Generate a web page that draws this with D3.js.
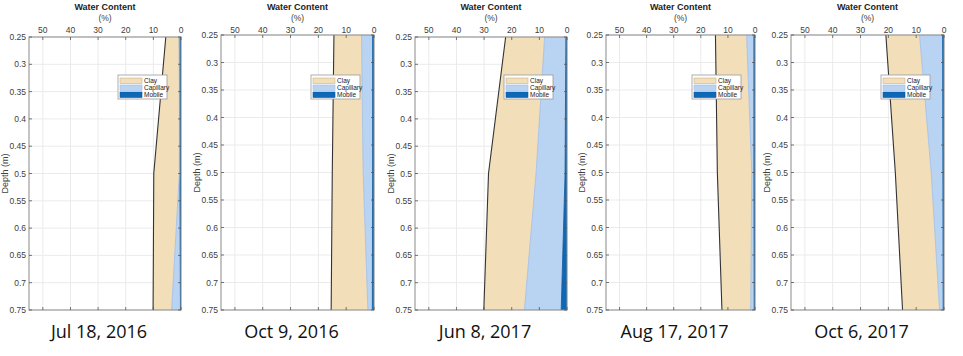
<!DOCTYPE html>
<html><head><meta charset="utf-8">
<script src="https://cdn.jsdelivr.net/npm/d3@7"></script>
<style>
html,body{margin:0;padding:0;background:#fff;}
svg{display:block;}
</style></head>
<body>
<svg id="chart" width="963" height="356"></svg>
<script>
// ---------- DATA ----------
const dates = ["Jul 18, 2016", "Oct 9, 2016", "Jun 8, 2017", "Aug 17, 2017", "Oct 6, 2017"];
const depths = [0.25, 0.5, 0.75];
const seriesNames = ["Clay", "Capillary", "Mobile"];
// water content (%) per panel, per depth
const mobile = [
  [0.6, 0.4, 0.2],
  [0.5, 0.5, 0.6],
  [0.4, 0.7, 2.1],
  [0.4, 0.4, 0.3],
  [0.5, 0.4, 0.3]
];
const capillary = [
  [0.0, 0.2, 3.2],
  [4.0, 3.4, 1.6],
  [7.7, 10.5, 13.3],
  [2.7, 0.8, 1.3],
  [8.3, 4.2, 1.3]
];
const clay = [
  [4.9, 9.25, 6.7],
  [9.9, 11.1, 13.2],
  [14.1, 17.2, 14.7],
  [11.5, 12.7, 10.6],
  [12.1, 12.9, 13.3]
];
const xTicks = [0, 10, 20, 30, 40, 50];
const yTicks = [0.25, 0.3, 0.35, 0.4, 0.45, 0.5, 0.55, 0.6, 0.65, 0.7, 0.75];
const yTickLabels = ["0.25", "0.3", "0.35", "0.4", "0.45", "0.5", "0.55", "0.6", "0.65", "0.7", "0.75"];
const xDomain = [0, 55];
const yDomain = [0.25, 0.75];

// ---------- LAYOUT ----------
const panelLeft = [29, 221, 415, 606, 791];
const panelRight = [181, 374, 567, 755, 944];
const panelTop = [37, 35, 37, 35, 35];
const panelBottom = 310;
const colors = { Clay: "#f2dfba", Capillary: "#b9d3f3", Mobile: "#0e68b8" };
const edgeColors = { Clay: "#333333", Capillary: "#9fbde6", Mobile: "#0b5aa0" };
const font = "'Liberation Sans', Arial, Helvetica, sans-serif";

const svg = d3.select("#chart");

dates.forEach((date, p) => {
  const L = panelLeft[p], R = panelRight[p], T = panelTop[p], B = panelBottom;
  const x = d3.scaleLinear().domain(xDomain).range([R, L]);
  const y = d3.scaleLinear().domain(yDomain).range([T, B]);
  const g = svg.append("g");

  const clipId = "clip" + p;
  svg.append("clipPath").attr("id", clipId)
    .append("rect").attr("x", L).attr("y", T).attr("width", R - L).attr("height", B - T);

  // grid
  const grid = g.append("g");
  grid.selectAll("line.gx").data(xTicks).join("line")
    .attr("x1", d => x(d)).attr("x2", d => x(d)).attr("y1", T).attr("y2", B)
    .attr("stroke", "#ebebeb").attr("stroke-width", 1);
  grid.selectAll("line.gy").data(yTicks).join("line")
    .attr("y1", d => y(d)).attr("y2", d => y(d)).attr("x1", L).attr("x2", R)
    .attr("stroke", "#ebebeb").attr("stroke-width", 1);

  // stacked data
  const rows = depths.map((d, i) => ({
    depth: d, Mobile: mobile[p][i], Capillary: capillary[p][i], Clay: clay[p][i]
  }));
  const stack = d3.stack().keys(["Mobile", "Capillary", "Clay"]);
  const layers = stack(rows);
  const area = d3.area()
    .y(d => y(d.data.depth))
    .x0(d => x(d[0]))
    .x1(d => x(d[1]));

  const areas = g.append("g").attr("clip-path", `url(#${clipId})`);
  layers.slice().reverse().forEach(layer => {
    areas.append("path")
      .attr("d", area(layer))
      .attr("fill", colors[layer.key])
      .attr("stroke", "none");
  });
  const line = d3.line().y(d => y(d.data.depth)).x(d => x(d[1]));
  layers.forEach(layer => {
    areas.append("path")
      .attr("d", line(layer))
      .attr("fill", "none")
      .attr("stroke", edgeColors[layer.key])
      .attr("stroke-width", layer.key === "Clay" ? 1.1 : 0.8);
  });

  // axis box
  g.append("rect").attr("x", L).attr("y", T).attr("width", R - L).attr("height", B - T)
    .attr("fill", "none").attr("stroke", "#8a8a8a").attr("stroke-width", 1);

  // ticks
  const tk = 3;
  const ticks = g.append("g").attr("stroke", "#555").attr("stroke-width", 0.8);
  xTicks.forEach(v => {
    ticks.append("line").attr("x1", x(v)).attr("x2", x(v)).attr("y1", T).attr("y2", T + tk);
    ticks.append("line").attr("x1", x(v)).attr("x2", x(v)).attr("y1", B).attr("y2", B - tk);
  });
  yTicks.forEach(v => {
    ticks.append("line").attr("y1", y(v)).attr("y2", y(v)).attr("x1", L).attr("x2", L + tk);
    ticks.append("line").attr("y1", y(v)).attr("y2", y(v)).attr("x1", R).attr("x2", R - tk);
  });

  // tick labels
  g.selectAll("text.xt").data(xTicks).join("text")
    .attr("x", d => x(d)).attr("y", 32.5)
    .attr("text-anchor", "middle")
    .attr("font-family", font).attr("font-size", 8.5).attr("fill", "#404040")
    .text(d => d);
  g.selectAll("text.yt").data(yTicks).join("text")
    .attr("x", L - 3).attr("y", d => y(d) + 3)
    .attr("text-anchor", "end")
    .attr("font-family", font).attr("font-size", 8.5).attr("fill", "#404040")
    .text((d, i) => yTickLabels[i]);

  // titles
  const cx = (L + R) / 2;
  g.append("text").attr("x", cx).attr("y", 10)
    .attr("text-anchor", "middle").attr("font-family", font)
    .attr("font-size", 9).attr("font-weight", "bold").attr("fill", "#222")
    .text("Water Content");
  g.append("text").attr("x", cx).attr("y", 21)
    .attr("text-anchor", "middle").attr("font-family", font)
    .attr("font-size", 8.5).attr("fill", "#404040")
    .text("(%)");
  g.append("text")
    .attr("transform", `translate(${L - 21},${(T + B) / 2}) rotate(-90)`)
    .attr("text-anchor", "middle").attr("font-family", font)
    .attr("font-size", 9).attr("fill", "#404040")
    .text("Depth (m)");

  // legend
  const lgW = 49, lgH = 24;
  const lgX = R - 14 - lgW, lgY = 75;
  const lg = g.append("g");
  lg.append("rect").attr("x", lgX).attr("y", lgY).attr("width", lgW).attr("height", lgH)
    .attr("fill", "#fff").attr("stroke", "#9a9a9a").attr("stroke-width", 0.8);
  seriesNames.forEach((s, i) => {
    const ry = lgY + 3 + i * 7;
    lg.append("rect").attr("x", lgX + 2).attr("y", ry).attr("width", 22).attr("height", 5.5)
      .attr("fill", colors[s]).attr("stroke", s === "Clay" ? "#c9b38d" : (s === "Capillary" ? "#9fbde6" : "#0b5aa0"))
      .attr("stroke-width", 0.6);
    lg.append("text").attr("x", lgX + 26).attr("y", ry + 5)
      .attr("font-family", font).attr("font-size", 6.5).attr("fill", "#222")
      .text(s);
  });

  // date label
  g.append("text").attr("x", cx - 6).attr("y", 338)
    .attr("text-anchor", "middle")
    .attr("font-family", "'Open Sans', 'Noto Sans', sans-serif")
    .attr("font-size", 18).attr("fill", "#111")
    .text(date);
});
</script>
</body></html>
